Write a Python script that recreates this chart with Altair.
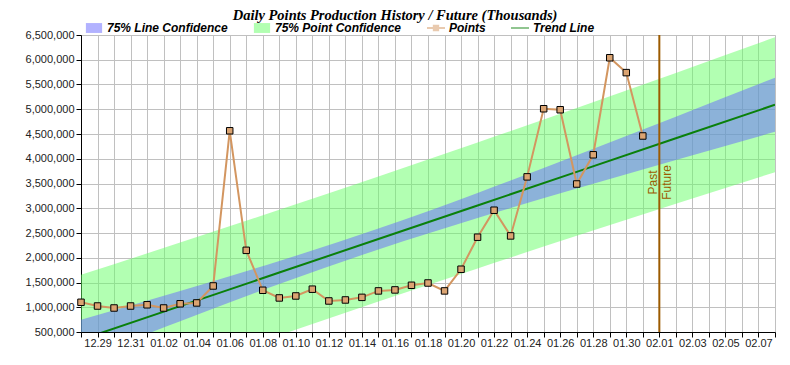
import altair as alt
import pandas as pd

# ---------------- data ----------------
DAY_LABELS = ["12.28", "12.29", "12.30", "12.31",
              "01.01", "01.02", "01.03", "01.04", "01.05", "01.06", "01.07", "01.08",
              "01.09", "01.10", "01.11", "01.12", "01.13", "01.14", "01.15", "01.16",
              "01.17", "01.18", "01.19", "01.20", "01.21", "01.22", "01.23", "01.24",
              "01.25", "01.26", "01.27", "01.28", "01.29", "01.30", "01.31",
              "02.01", "02.02", "02.03", "02.04", "02.05", "02.06", "02.07", "02.08"]

# daily points, 12.28 .. 01.31
POINT_VALUES = [1100000, 1025000, 985000, 1025000, 1050000, 985000, 1070000, 1087000,
                1430000, 4565000, 2150000, 1343000, 1188000, 1228000, 1365000, 1127000,
                1147000, 1200000, 1330000, 1350000, 1444000, 1490000, 1330000, 1768000,
                2415000, 2960000, 2441000, 3634000, 5010000, 4990000, 3490000, 4080000,
                6040000, 5740000, 4460000]

# trend line and confidence bands, read at these day positions
BAND_DAYS = [0, 6, 12, 18, 24, 30, 36, 42]
TREND = [345000, 1023000, 1701000, 2379000, 3057000, 3735000, 4413000, 5091000]
LINE_CONF_LOW = [-58000, 717000, 1468000, 2168000, 2804000, 3398000, 3975000, 4544000]
LINE_CONF_HIGH = [748000, 1329000, 1934000, 2590000, 3310000, 4072000, 4851000, 5638000]
POINT_CONF_LOW = [-965000, -260000, 433000, 1115000, 1785000, 2444000, 3092000, 3729000]
POINT_CONF_HIGH = [1655000, 2306000, 2969000, 3643000, 4329000, 5026000, 5734000, 6453000]

DIVIDER_LABEL = "02.01"
PAST_TEXT = "Past"
FUTURE_TEXT = "Future"

SERIES = ["75% Line Confidence", "75% Point Confidence", "Points", "Trend Line"]
TITLE = "Daily Points Production History / Future (Thousands)"

Y_MIN, Y_MAX, Y_STEP = 500000, 6500000, 500000

# ---------------- styles ----------------
BLUE = "#6666ff"
GREEN = "#66ff66"
TAN_LINE = "#d39660"
TAN_FILL = "#dba472"
TREND_GREEN = "#0a800a"
BROWN = "#9c5b00"
GRID = "#c0c0c0"
SANS = "Liberation Sans"
SERIF = "Liberation Serif"

# ---------------- tables ----------------
days = list(range(len(DAY_LABELS)))
points_df = pd.DataFrame({"day": days[:len(POINT_VALUES)], "value": POINT_VALUES})
band_df = pd.DataFrame({
    "day": BAND_DAYS, "trend": TREND,
    "lc_lo": LINE_CONF_LOW, "lc_hi": LINE_CONF_HIGH,
    "pc_lo": POINT_CONF_LOW, "pc_hi": POINT_CONF_HIGH,
})
divider_df = pd.DataFrame({"day": [DAY_LABELS.index(DIVIDER_LABEL)],
                           "past": [PAST_TEXT], "future": [FUTURE_TEXT]})
legend_df = pd.DataFrame({"series": SERIES})

label_js = "[" + ",".join("'" + (l if i % 2 == 1 else "") + "'" for i, l in enumerate(DAY_LABELS)) + "]"

x_axis = alt.Axis(values=days, labelExpr=label_js + "[datum.value]", title=None,
                  grid=True, gridColor=GRID, gridWidth=1, tickColor="black", domainColor="black",
                  tickSize=5, labelFont=SANS, labelFontSize=11, labelColor="#222222",
                  labelPadding=0, labelOverlap=False, labelFlush=False)
x_scale = alt.Scale(domain=[days[0], days[-1]], nice=False, zero=False)
y_axis = alt.Axis(values=list(range(Y_MIN, Y_MAX + 1, Y_STEP)), format=",d", title=None,
                  grid=True, gridColor=GRID, gridWidth=1, tickColor="black", domainColor="black",
                  tickSize=5, labelFont=SANS, labelFontSize=11, labelColor="#222222",
                  labelPadding=2)
y_scale = alt.Scale(domain=[Y_MIN, Y_MAX], nice=False, zero=False)

X = alt.X("day:Q", scale=x_scale, axis=x_axis)

point_band = alt.Chart(band_df).mark_area(color=GREEN, opacity=0.5, clip=True,
                                          interpolate="monotone").encode(
    x=X, y=alt.Y("pc_lo:Q", scale=y_scale, axis=y_axis), y2="pc_hi:Q")
line_band = alt.Chart(band_df).mark_area(color=BLUE, opacity=0.5, clip=True,
                                         interpolate="monotone").encode(
    x=X, y=alt.Y("lc_lo:Q", scale=y_scale, axis=y_axis), y2="lc_hi:Q")
trend = alt.Chart(band_df).mark_line(color=TREND_GREEN, strokeWidth=2, clip=True).encode(
    x=X, y=alt.Y("trend:Q", scale=y_scale, axis=y_axis))
pts_line = alt.Chart(points_df).mark_line(color=TAN_LINE, strokeWidth=2, clip=True).encode(
    x=X, y=alt.Y("value:Q", scale=y_scale, axis=y_axis))
pts = alt.Chart(points_df).mark_point(shape="square", filled=True, fill=TAN_FILL, stroke="black",
                                      strokeWidth=1, size=42, opacity=1).encode(
    x=X, y=alt.Y("value:Q", scale=y_scale, axis=y_axis))
divider = alt.Chart(divider_df).mark_rule(color=BROWN, strokeWidth=2).encode(x=X)
past_txt = alt.Chart(divider_df).mark_text(angle=270, align="center", baseline="alphabetic",
                                           font=SANS, fontSize=12, color=BROWN, xOffset=-2).encode(
    x=X, y=alt.value(147.5), text="past:N")
future_txt = alt.Chart(divider_df).mark_text(angle=270, align="center", baseline="alphabetic",
                                             font=SANS, fontSize=12, color=BROWN, xOffset=12).encode(
    x=X, y=alt.value(147.5), text="future:N")

RECT = "M-0.9,-0.55H0.9V0.55H-0.9Z"
LINE = "M-1,-0.1H1V0.1H-1Z"
LINE_SQ = "M-1,-0.1H1V0.1H-1Z M-0.35,-0.35H0.35V0.35H-0.35Z"

leg = alt.Legend(title=None, orient="none", legendX=4, legendY=-16, direction="horizontal",
                 columns=4, columnPadding=25, labelFont=SANS, labelFontSize=12,
                 labelFontStyle="italic", labelFontWeight="bold", labelColor="black",
                 labelOffset=4, symbolSize=324, padding=0, symbolStrokeWidth=0)
legend_layer = alt.Chart(legend_df).transform_filter("false").mark_point(filled=True).encode(
    color=alt.Color("series:N", scale=alt.Scale(domain=SERIES, range=[BLUE, GREEN, TAN_LINE, TREND_GREEN]), legend=leg),
    shape=alt.Shape("series:N", scale=alt.Scale(domain=SERIES, range=[RECT, RECT, LINE_SQ, LINE]), legend=leg),
    opacity=alt.Opacity("series:N", scale=alt.Scale(domain=SERIES, range=[0.5, 0.5, 1, 1]), legend=leg),
)

chart = alt.layer(point_band, line_band, trend, pts_line, pts, divider, past_txt, future_txt,
                  legend_layer).properties(
    width=694, height=297,
    title=alt.TitleParams(TITLE, font=SERIF, fontSize=14.5, fontStyle="italic", fontWeight="bold",
                          color="black", anchor="middle", dx=-33, dy=8),
    autosize=alt.AutoSizeParams(type="none"),
    padding={"left": 73, "top": 27, "right": 7, "bottom": 20},
).configure_view(stroke="black", strokeWidth=1).configure(background="white")

chart.save("out.html", embed_options={"renderer": "svg", "actions": False})
